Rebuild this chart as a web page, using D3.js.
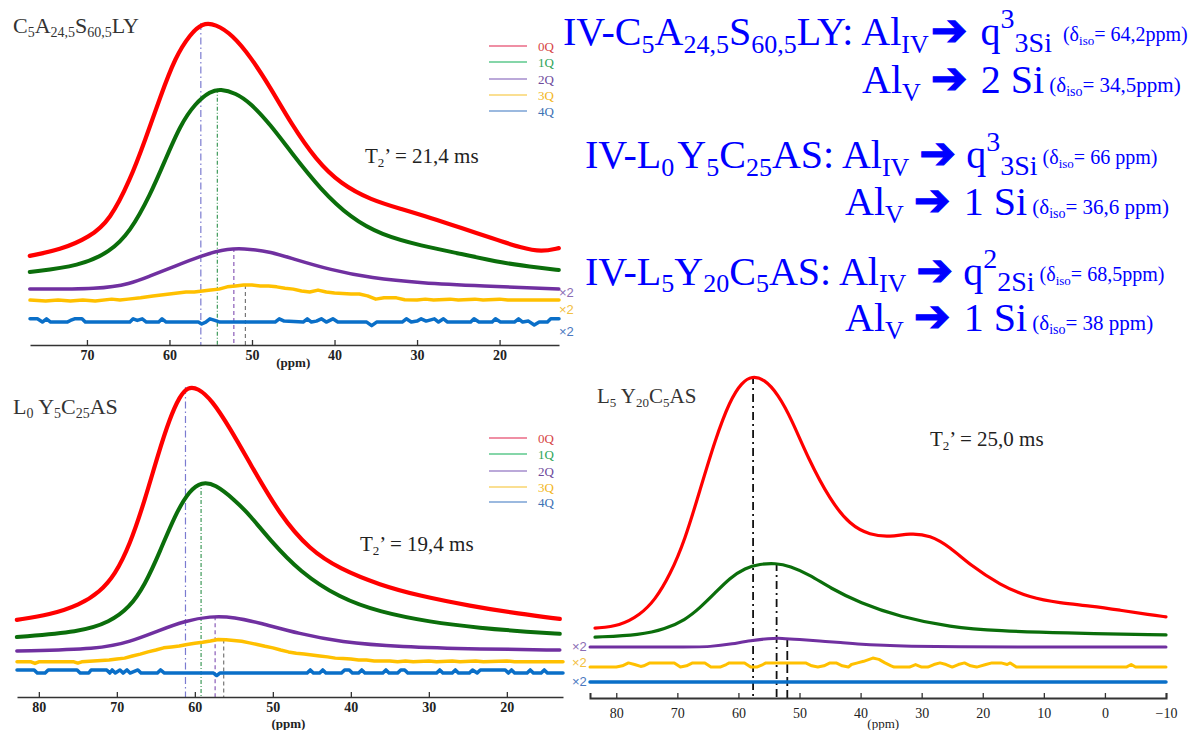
<!DOCTYPE html>
<html><head><meta charset="utf-8">
<script src="https://cdn.jsdelivr.net/npm/d3@7"></script>
<style>
body{margin:0;background:#fff}
svg{display:block}
text{font-family:"Liberation Serif","Times New Roman",serif}
</style></head>
<body><svg id="chart" width="1192" height="730"></svg>
<script>
// ---------------- DATA ----------------
const seriesNames = ["0Q","1Q","2Q","3Q","4Q"];
const lineColors = ["#ff0000","#0b6e0b","#7030a0","#ffc000","#0a6fc8"];
const legendLineColors = ["#ea6a86","#5cc88c","#a48ccc","#f9d46e","#7aa2d4"];
const legendTextColors = ["#d64545","#2fa558","#6d4a9c","#f2b61c","#3d72b5"];
const scaleLabels = ["\u00d72","\u00d72","\u00d72"];
const scaleLabelColors = ["#8a6cb4","#f2c040","#4a78c0"];

const ticksA = [70,60,50,40,30,20];
const ticksB = [80,70,60,50,40,30,20];
const ticksC = [80,70,60,50,40,30,20,10,0,-10];

// Panel A : C5A24,5S60,5LY  (ppm, intensity)
const redA = [[76.93,27.6],[73.28,29.4],[69.64,33.4],[67.2,38.7],[64.77,51.1],[62.94,63.5],[61.12,76.8],[59.29,89.2],[57.47,96.3],[56.01,99.7],[54.43,99.4],[52.36,96.0],[50.17,89.2],[47.74,79.6],[45.3,68.7],[42.26,57.3],[39.22,49.8],[35.57,44.9],[31.92,42.1],[28.27,39.3],[24.62,36.2],[20.97,33.1],[17.32,30.0],[14.89,28.8],[12.82,30.0]];
const greenA = [[76.93,22.6],[70.85,24.5],[67.2,28.8],[64.77,35.0],[62.34,46.4],[60.51,57.3],[58.69,68.1],[56.86,74.9],[55.04,78.6],[53.82,79.3],[51.99,78.0],[50.17,74.9],[47.74,68.1],[45.3,59.8],[41.65,48.0],[38.0,39.3],[34.36,34.1],[29.49,30.7],[24.62,28.2],[19.76,25.4],[14.89,23.8],[12.82,23.2]];
const purpleA = [[76.93,17.3],[68.42,17.3],[64.77,18.9],[62.34,21.4],[59.9,23.8],[56.25,27.6],[52.85,30.0],[50.17,29.7],[47.74,28.8],[45.3,26.9],[40.44,23.2],[35.57,20.7],[29.49,19.2],[22.19,18.3],[12.82,17.3]];
const yellowA = [[76.9,13.9],[75,13.6],[73.5,13.9],[72,13.6],[70.5,13.9],[69,13.6],[67,14.2],[66,13.9],[65,14.2],[63.5,14.6],[62,15.2],[61,15.5],[60,15.8],[59,16.1],[58,16.4],[57,16.4],[56,16.7],[55,17.0],[54,17.3],[53,18.0],[52,18.3],[51,18.6],[50,18.6],[49,18.3],[48,18.3],[47,18.0],[46,17.6],[45,17.3],[44,16.7],[43,16.4],[42,17.0],[41,16.4],[40,16.1],[38,15.8],[37,15.8],[36,15.2],[35,14.2],[34,14.6],[32.5,14.6],[31.5,14.0],[30,13.9],[29,14.2],[28,13.9],[26,14.2],[25,13.9],[23,14.2],[22,13.9],[20,14.2],[19,13.9],[12.8,13.9]];
const blueA = [[76.9,8.1],[76,8.1],[75.4,7.1],[74.9,8.1],[74.4,7.1],[72.4,7.1],[72,7.6],[71.5,8.1],[70.6,8.1],[70.2,7.1],[64.8,7.1],[64.4,8.1],[63.9,7.6],[63.3,8.1],[62.8,7.1],[61.3,7.1],[60.9,8.1],[60.4,7.1],[56.5,7.1],[56.1,6.5],[55.6,7.1],[55.1,8.1],[54.5,7.6],[53.9,7.1],[47.2,7.1],[46.7,8.1],[46.1,7.4],[43.8,7.1],[43.3,8.1],[42.8,7.1],[42.2,7.4],[41.6,8.1],[41.0,7.1],[40.2,8.1],[39.6,7.1],[36.1,7.1],[35.5,6.0],[34.9,7.1],[31.8,7.1],[31.3,8.1],[30.7,7.1],[30.0,7.4],[29.5,8.1],[28.9,7.4],[27.9,8.1],[27.4,7.1],[26.8,8.1],[26.3,7.1],[23.5,7.1],[23.1,8.1],[22.5,7.1],[20.9,7.1],[20.5,8.1],[19.9,7.1],[18.2,7.1],[17.7,8.1],[17.2,7.1],[16.5,7.4],[15.8,6.2],[15.2,7.1],[14.2,7.1],[13.8,8.1],[12.8,8.1]];
const peaksA = [56.2,54.2,52.2,50.8];

// Panel B : L0Y5C25AS
const redB = [[82.82,24.8],[78.59,26.4],[74.74,29.6],[72.18,33.8],[70.26,39.2],[68.33,48.9],[66.41,63.3],[64.74,77.8],[63.21,89.7],[61.92,96.8],[60.9,99.7],[59.62,99.4],[57.82,95.5],[55.51,86.5],[52.95,75.2],[49.1,58.5],[45.26,47.3],[41.41,41.2],[36.28,36.0],[31.15,32.5],[24.74,29.3],[18.33,26.7],[13.21,25.1]];
const greenB = [[82.82,19.3],[74.74,20.9],[70.9,24.1],[68.33,28.9],[66.41,36.0],[64.49,46.6],[62.56,58.5],[60.64,66.6],[59.1,69.1],[57.44,68.5],[54.87,63.3],[52.95,58.5],[50.38,50.5],[46.54,40.2],[41.41,31.8],[36.28,27.3],[29.87,24.1],[23.46,22.2],[17.05,20.9],[13.21,20.3]];
const purpleB = [[82.82,14.8],[72.18,15.4],[68.33,17.7],[64.49,21.5],[61.28,24.4],[58.08,26.0],[54.87,25.7],[51.67,23.8],[46.54,20.3],[41.41,17.7],[33.72,16.1],[23.46,15.4],[13.21,15.1]];
const yellowB = [[82.8,11.3],[81,11.3],[80.5,10.8],[80,11.3],[75.5,11.3],[75,10.9],[74.5,11.3],[73,11.6],[71,11.9],[70,12.2],[69,12.5],[68,13.2],[67,13.8],[66,14.5],[65,15.1],[64,15.8],[63,16.1],[62,16.4],[61,16.9],[60,17.3],[59,17.6],[58,18.0],[57,18.5],[56,18.4],[55,18.2],[54,17.9],[53,17.4],[52,16.9],[51,16.3],[50,15.8],[49,15.1],[48,14.5],[47,14.1],[46,13.8],[45,13.5],[44,13.2],[43,12.9],[42,12.5],[41,12.4],[40,12.2],[39,11.9],[38,11.9],[37,11.6],[36,11.6],[35,11.6],[34,11.3],[33,11.6],[32,11.3],[30,11.6],[29,11.3],[27,11.6],[26,11.3],[24,11.6],[23,11.3],[20,11.6],[19,11.3],[12.8,11.3]];
const blueB = [[82.8,8.7],[80.6,8.7],[80.2,7.7],[79.2,7.7],[78.8,8.7],[75.1,8.7],[74.7,7.7],[73.6,7.7],[73.3,8.7],[71.3,8.7],[70.9,7.7],[70.6,8.7],[70.2,7.7],[69.6,8.7],[69.2,7.7],[68.7,8.7],[68.3,7.7],[67.3,8.7],[66.9,7.7],[64.8,7.7],[64.4,8.7],[63.9,7.7],[57.6,7.7],[57.2,6.9],[56.8,7.7],[45.6,7.7],[45.2,8.7],[44.8,7.7],[44.0,7.7],[43.6,8.7],[43.2,7.7],[41.2,7.7],[40.8,8.7],[40.2,8.7],[39.8,7.7],[39.0,7.7],[38.6,8.7],[38.2,7.7],[35.9,7.7],[35.5,8.7],[35.1,7.7],[34.0,7.7],[33.6,8.7],[33.1,8.7],[32.7,7.7],[29.0,7.7],[28.6,8.7],[28.2,7.7],[27.0,7.7],[26.6,8.7],[26.2,7.7],[24.8,7.7],[24.4,8.7],[23.8,7.7],[23.4,8.7],[20.2,8.7],[19.8,7.7],[19.4,8.7],[19.0,7.7],[17.4,7.7],[17.0,8.7],[16.6,7.7],[15.6,7.7],[15.2,8.7],[14.8,7.7],[12.8,7.7]];
const peaksB = [61.2,59.2,57.4,56.3];

// Panel C : L5Y20C5AS
const redC = [[83.48,21.7],[79.39,22.4],[76.11,25.8],[73.66,30.4],[71.2,38.2],[68.75,49.1],[66.29,64.6],[63.83,80.1],[61.38,92.5],[59.41,98.1],[57.78,100],[55.81,99.1],[53.52,94.4],[51.23,86.3],[48.61,74.5],[45.01,61.5],[41.73,53.7],[38.46,50.6],[35.18,50.0],[31.91,51.2],[28.63,50.6],[25.36,46.9],[22.09,41.3],[17.17,35.1],[12.26,31.1],[7.35,29.5],[2.44,28.6],[-2.47,27.3],[-7.38,25.8],[-10,25.2]];
const greenC = [[83.48,18.9],[76.0,19.6],[72.0,21.4],[68.75,24.2],[66.29,28.0],[63.83,32.6],[61.38,37.3],[58.92,40.4],[56.47,41.6],[54.01,41.9],[51.56,41.0],[48.28,38.2],[45.01,34.2],[40.1,29.5],[33.55,25.2],[25.36,22.0],[17.17,20.8],[7.35,20.2],[-10,19.6]];
const purpleC = [[84.3,15.8],[70,15.8],[64.2,15.9],[61,16.8],[58,17.8],[55,18.5],[53,18.6],[50,18.2],[46.8,17.7],[43,17.2],[40.9,16.8],[36,16.3],[32.2,16.1],[25,15.9],[10,15.8],[-10,15.8]];
const yellowC = [[84.3,9.6],[80,9.6],[79,10.0],[78,10.9],[77,10.4],[76,9.8],[75.5,10.0],[74.5,10.9],[70.5,10.9],[69.5,9.6],[68.5,10.0],[67.5,10.9],[65.5,10.9],[64.5,9.6],[63,9.6],[62,10.4],[61.5,10.9],[59,10.9],[58,9.6],[57,9.6],[56,10.4],[55.5,10.9],[49,10.9],[48,10.0],[47,9.6],[46,10.0],[45,10.9],[44,10.9],[43,10.0],[42,9.6],[41.5,10.4],[40.5,10.9],[39.5,11.4],[38,12.4],[37,12.0],[36,10.9],[35,10.0],[34.5,9.6],[32,9.6],[31,10.4],[30,9.6],[29,9.6],[28,10.4],[27,10.9],[26,10.4],[25,9.6],[24,10.4],[23,10.9],[22,10.0],[21,9.6],[19.5,10.4],[18.5,10.9],[17,10.9],[16,10.4],[15.5,10.9],[14.5,9.6],[-3.5,9.6],[-4.3,10.4],[-5,9.6],[-10,9.6]];
const blueC = [[84.3,5.0],[-10,5.0]];
const peaksC = [57.6,53.75,52.0];

// ---------------- DRAW ----------------
const svg = d3.select("#chart");
const SERIF = "'Liberation Serif','Times New Roman',serif";

function rich(x, y, parts, fill, anchor){
  const t = svg.append("text").attr("x",x).attr("y",y).attr("fill",fill||"#222")
    .style("font-family",SERIF);
  if(anchor) t.attr("text-anchor",anchor);
  let cur = 0;
  parts.forEach(p=>{
    const b = p.b||0;
    const ts = t.append("tspan").text(p.t).attr("font-size",p.s)
      .style("font-family", p.f ? p.f : SERIF);
    if(b!==cur) ts.attr("dy", b-cur);
    if(p.dx) ts.attr("dx", p.dx);
    if(p.sw) ts.attr("stroke", fill).attr("stroke-width", p.sw);
    cur = b;
  });
  return t;
}

function drawPanel(p){
  const g = svg.append("g");
  const line = (curve)=>d3.line().x(d=>p.x(d[0])).y(d=>p.y(d[1])).curve(curve);
  p.peaks.forEach((pk,i)=>{
    const top = d3.max(p.series[i], d=>d[1]);
    g.append("line")
      .attr("x1",p.x(pk)).attr("x2",p.x(pk))
      .attr("y1",p.y(top)).attr("y2",p.y(0))
      .attr("stroke",p.markerStyles[i].c)
      .attr("stroke-width",p.markerStyles[i].w)
      .attr("stroke-dasharray",p.markerStyles[i].d);
  });
  p.series.forEach((s,i)=>{
    g.append("path").datum(s)
      .attr("d", line(i<3 ? d3.curveBasis : d3.curveLinear)(s))
      .attr("fill","none")
      .attr("stroke",lineColors[i])
      .attr("stroke-width",p.widths[i])
      .attr("stroke-linejoin","round").attr("stroke-linecap","round");
  });
  const ax = d3.axisBottom(p.x).tickValues(p.ticks).tickSizeInner(-5).tickSizeOuter(p.outer).tickPadding(p.pad);
  const ag = g.append("g").attr("transform",`translate(0,${p.y(0)})`).call(ax);
  ag.select(".domain").attr("stroke","#333").attr("stroke-width",p.axisW);
  ag.selectAll(".tick line").attr("stroke","#333").attr("stroke-width",1.3);
  ag.selectAll(".tick text").style("font-family",SERIF)
    .attr("font-size",p.tickFont).attr("font-weight",p.tickWeight).attr("fill","#222");
  g.append("text").attr("x",p.x(p.ppmLabelAt)).attr("y",p.ppmLabelY)
    .attr("text-anchor","middle").attr("font-size",p.tickFont-1).style("font-family",SERIF)
    .attr("font-weight",p.tickWeight).attr("fill","#222").text("(ppm)");
}

const xA = d3.scaleLinear().domain([76.9,12.8]).range([30,559]);
const yA = d3.scaleLinear().domain([0,100]).range([345,22]);
const xB = d3.scaleLinear().domain([82.8,12.8]).range([17,563]);
const yB = d3.scaleLinear().domain([0,100]).range([697,386]);
const xC = d3.scaleLinear().domain([84.3,-10]).range([590,1166]);
const yC = d3.scaleLinear().domain([0,100]).range([698,376]);

const colorMarkers = [
  {c:"#7b7bd0",w:1.2,d:"7,3,1.5,3"},
  {c:"#3f9a5a",w:1.2,d:"4,2,1,2"},
  {c:"#8a5cb8",w:1.2,d:"4,3"},
  {c:"#777777",w:1.2,d:"4,3"}];
const blackMarkers = [
  {c:"#111",w:1.8,d:"8,4,2,4"},
  {c:"#111",w:1.8,d:"8,4,2,4"},
  {c:"#111",w:1.8,d:"9,4"}];

drawPanel({x:xA,y:yA,series:[redA,greenA,purpleA,yellowA,blueA],peaks:peaksA,markerStyles:colorMarkers,
  widths:[4.2,4,3.5,3.5,3.5],ticks:ticksA,outer:0,pad:5,axisW:1.6,tickFont:14,tickWeight:"bold",ppmLabelAt:45,ppmLabelY:367});
drawPanel({x:xB,y:yB,series:[redB,greenB,purpleB,yellowB,blueB],peaks:peaksB,markerStyles:colorMarkers,
  widths:[4.2,4,3.5,3.5,3.5],ticks:ticksB,outer:0,pad:5,axisW:1.6,tickFont:14,tickWeight:"bold",ppmLabelAt:48,ppmLabelY:728});
drawPanel({x:xC,y:yC,series:[redC,greenC,purpleC,yellowC,blueC],peaks:peaksC,markerStyles:blackMarkers,
  widths:[3.2,3.2,3,3,3.5],ticks:ticksC,outer:-5,pad:10,axisW:2,tickFont:14,tickWeight:"normal",ppmLabelAt:36.3,ppmLabelY:728});

// legends
function legend(x, rows){
  rows.forEach((ry,i)=>{
    svg.append("line").attr("x1",x).attr("x2",x+38).attr("y1",ry).attr("y2",ry)
      .attr("stroke",legendLineColors[i]).attr("stroke-width",1.6);
    svg.append("text").attr("x",x+49).attr("y",ry+4.5).attr("font-size",13).style("font-family",SERIF)
      .attr("fill",legendTextColors[i]).text(seriesNames[i]);
  });
}
legend(489,[46,62,79,95,111]);
legend(489,[438,454,471,487,502]);

// x2 labels
function scaleLbl(x, ys){
  ys.forEach((yy,i)=>svg.append("text").attr("x",x).attr("y",yy)
    .style("font-family","'Liberation Sans',Arial,sans-serif").attr("font-size",13)
    .attr("fill",scaleLabelColors[i]).text(scaleLabels[i]));
}
scaleLbl(559,[297,314,336]);
scaleLbl(572,[651,667,686]);

// panel titles
rich(13,33,[{t:"C",s:22},{t:"5",s:14,b:4},{t:"A",s:22},{t:"24,5",s:14,b:4},{t:"S",s:22},{t:"60,5",s:14,b:4},{t:"LY",s:22}],"#333");
rich(13,414,[{t:"L",s:22},{t:"0",s:14,b:4},{t:" Y",s:22},{t:"5",s:14,b:4},{t:"C",s:22},{t:"25",s:14,b:4},{t:"AS",s:22}],"#333");
rich(597,403,[{t:"L",s:21},{t:"5",s:13,b:4},{t:" Y",s:21},{t:"20",s:13,b:4},{t:"C",s:21},{t:"5",s:13,b:4},{t:"AS",s:21}],"#333");

// T2'
function t2(x,y,val){
  rich(x,y,[{t:"T",s:21},{t:"2",s:13,b:4},{t:"\u2019 = "+val+" ms",s:21}],"#222");
}
t2(365,163,"21,4");
t2(360,551,"19,4");
t2(930,446,"25,0");

// right-hand blue annotations
const BLUE = "#0000ff";
const AR = "'DejaVu Sans',sans-serif";
const arrow = {t:"\u2794",s:44,f:AR,sw:1.2};
rich(563,45,[{t:"IV-C",s:40},{t:"5",s:26,b:8},{t:"A",s:40},{t:"24,5",s:26,b:8},{t:"S",s:40},{t:"60,5",s:26,b:8},
  {t:"LY: Al",s:40},{t:"IV",s:26,b:8},Object.assign({},arrow,{dx:2}),{t:" q",s:40,dx:3},{t:"3",s:28,b:-17},{t:"3Si",s:28,b:7},
  {t:" (\u03b4",s:20,b:-4,dx:6},{t:"iso",s:13,b:0},{t:"= 64,2ppm)",s:20,b:-4}],BLUE);
rich(862,93,[{t:"Al",s:40},{t:"V",s:26,b:8},{t:" ",s:40},arrow,{t:" 2 Si",s:40,dx:3},
  {t:" (\u03b4",s:21,b:-1},{t:"iso",s:14,b:3},{t:"= 34,5ppm)",s:21,b:-1}],BLUE);
rich(585,168,[{t:"IV-L",s:40},{t:"0",s:26,b:8},{t:"Y",s:40,dx:3},{t:"5",s:26,b:8},{t:"C",s:40},{t:"25",s:26,b:8},
  {t:"AS: Al",s:40},{t:"IV",s:26,b:8},{t:" ",s:40},arrow,{t:" q",s:40},{t:"3",s:28,b:-17},{t:"3Si",s:28,b:7},
  {t:" (\u03b4",s:20,b:-4},{t:"iso",s:13,b:0},{t:"= 66 ppm)",s:20,b:-4}],BLUE);
rich(845,215,[{t:"Al",s:40},{t:"V",s:26,b:8},{t:" ",s:40},arrow,{t:" 1 Si",s:40,dx:3},
  {t:" (\u03b4",s:21,b:-1},{t:"iso",s:14,b:3},{t:"= 36,6 ppm)",s:21,b:-1}],BLUE);
rich(585,285,[{t:"IV-L",s:40},{t:"5",s:26,b:7},{t:"Y",s:40},{t:"20",s:26,b:7},{t:"C",s:40},{t:"5",s:26,b:7},
  {t:"AS: Al",s:40},{t:"IV",s:26,b:7},{t:" ",s:40},arrow,{t:" q",s:40},{t:"2",s:28,b:-17},{t:"2Si",s:28,b:6},
  {t:" (\u03b4",s:20,b:-4},{t:"iso",s:13,b:0},{t:"= 68,5ppm)",s:20,b:-4}],BLUE);
rich(845,331,[{t:"Al",s:40},{t:"V",s:26,b:8},{t:" ",s:40},arrow,{t:" 1 Si",s:40,dx:3},
  {t:" (\u03b4",s:21,b:-1},{t:"iso",s:14,b:3},{t:"= 38 ppm)",s:21,b:-1}],BLUE);
</script>
</body></html>
